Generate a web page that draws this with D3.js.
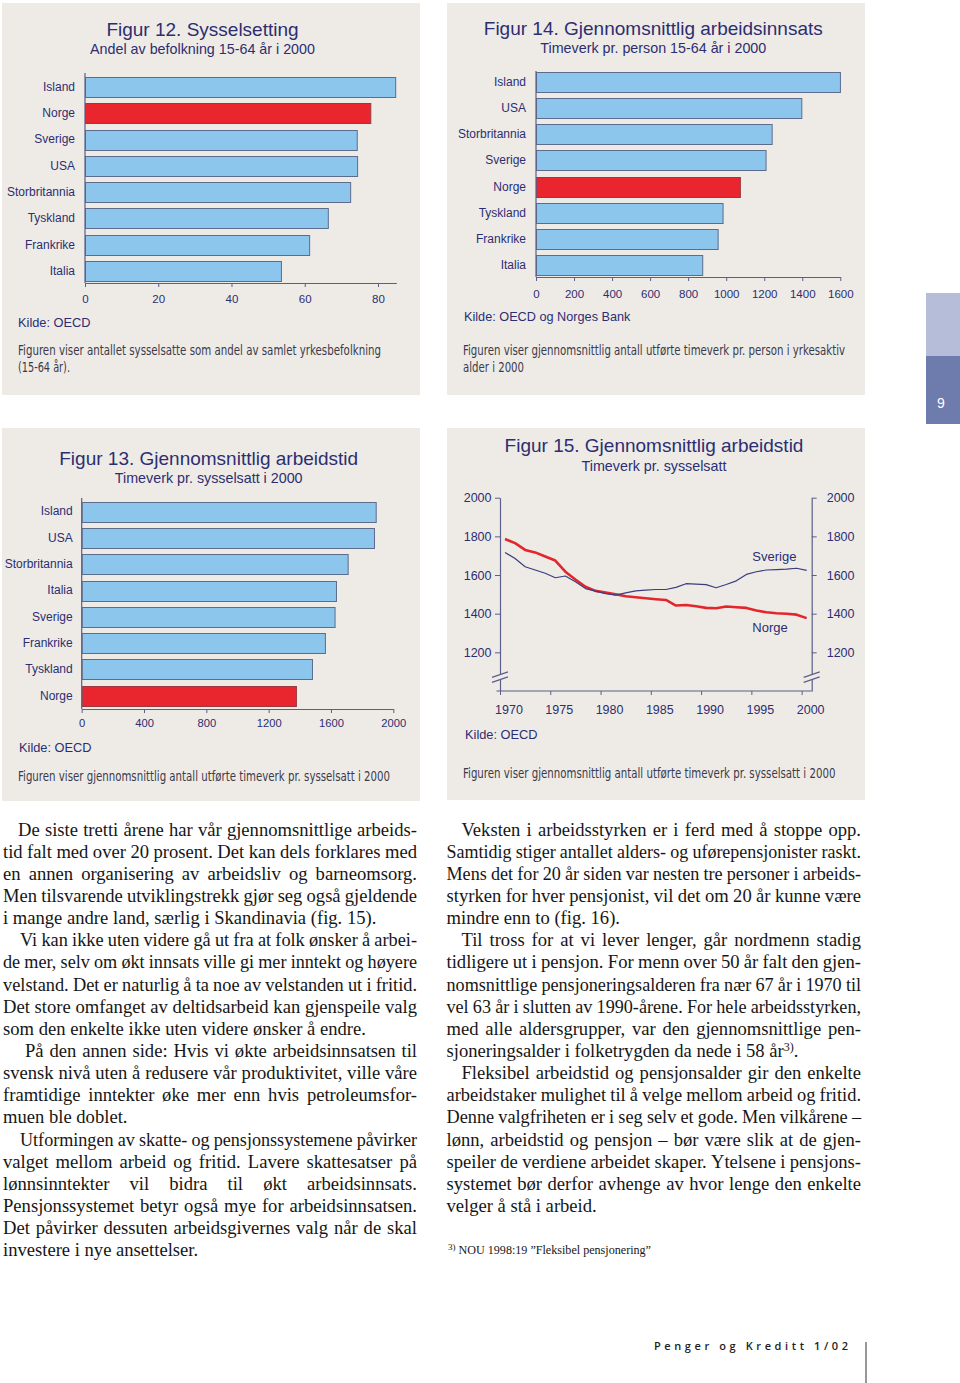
<!DOCTYPE html>
<html><head><meta charset="utf-8">
<script src="https://cdn.jsdelivr.net/npm/d3@7"></script>
<style>
html,body{margin:0;padding:0;background:#fff;}
svg{display:block;}
</style></head><body>
<svg id="page" width="960" height="1383"></svg>
<script>
// ---------------- DATA ----------------
const fig12Categories = ["Island","Norge","Sverige","USA","Storbritannia","Tyskland","Frankrike","Italia"];
const fig12Values = [84.7, 77.9, 74.2, 74.3, 72.4, 66.3, 61.2, 53.5];
const fig12Ticks = [0, 20, 40, 60, 80];

const fig14Categories = ["Island","USA","Storbritannia","Sverige","Norge","Tyskland","Frankrike","Italia"];
const fig14Values = [1598, 1395, 1239, 1207, 1072, 981, 955, 874];
const fig14Ticks = [0, 200, 400, 600, 800, 1000, 1200, 1400, 1600];

const fig13Categories = ["Island","USA","Storbritannia","Italia","Sverige","Frankrike","Tyskland","Norge"];
const fig13Values = [1887, 1876, 1707, 1632, 1623, 1561, 1478, 1375];
const fig13Ticks = [0, 400, 800, 1200, 1600, 2000];

const fig15Years = [1970,1971,1972,1973,1974,1975,1976,1977,1978,1979,1980,1981,1982,1983,1984,1985,1986,1987,1988,1989,1990,1991,1992,1993,1994,1995,1996,1997,1998,1999,2000];
const fig15Norge = [1786,1765,1730,1717,1696,1675,1617,1577,1539,1518,1510,1501,1490,1485,1480,1475,1471,1442,1445,1438,1430,1428,1437,1433,1430,1416,1407,1402,1400,1395,1377];
const fig15Sverige = [1717,1685,1643,1626,1609,1586,1595,1565,1530,1517,1504,1496,1508,1518,1522,1525,1525,1536,1555,1553,1550,1534,1551,1570,1603,1617,1626,1628,1630,1635,1624];
const fig15YTicks = [1200, 1400, 1600, 1800, 2000];
const fig15XTicks = [1970, 1975, 1980, 1985, 1990, 1995, 2000];

const textLeft = [
 {t:"De siste tretti årene har vår gjennomsnittlige arbeids-", i:15},
 {t:"tid falt med over 20 prosent. Det kan dels forklares med"},
 {t:"en annen organisering av arbeidsliv og barneomsorg."},
 {t:"Men tilsvarende utviklingstrekk gjør seg også gjeldende"},
 {t:"i mange andre land, særlig i Skandinavia (fig. 15).", last:true},
 {t:"Vi kan ikke uten videre gå ut fra at folk ønsker å arbei-", i:17},
 {t:"de mer, selv om økt innsats ville gi mer inntekt og høyere"},
 {t:"velstand. Det er naturlig å ta noe av velstanden ut i fritid."},
 {t:"Det store omfanget av deltidsarbeid kan gjenspeile valg"},
 {t:"som den enkelte ikke uten videre ønsker å endre.", last:true},
 {t:"På den annen side: Hvis vi økte arbeidsinnsatsen til", i:22},
 {t:"svensk nivå uten å redusere vår produktivitet, ville våre"},
 {t:"framtidige inntekter øke mer enn hvis petroleumsfor-"},
 {t:"muen ble doblet.", last:true},
 {t:"Utformingen av skatte- og pensjonssystemene påvirker", i:17},
 {t:"valget mellom arbeid og fritid. Lavere skattesatser på"},
 {t:"lønnsinntekter vil bidra til økt arbeidsinnsats."},
 {t:"Pensjonssystemet betyr også mye for arbeidsinnsatsen."},
 {t:"Det påvirker dessuten arbeidsgivernes valg når de skal"},
 {t:"investere i nye ansettelser.", last:true}
];
const textRight = [
 {t:"Veksten i arbeidsstyrken er i ferd med å stoppe opp.", i:15},
 {t:"Samtidig stiger antallet alders- og uførepensjonister raskt."},
 {t:"Mens det for 20 år siden var nesten tre personer i arbeids-"},
 {t:"styrken for hver pensjonist, vil det om 20 år kunne være"},
 {t:"mindre enn to (fig. 16).", last:true},
 {t:"Til tross for at vi lever lenger, går nordmenn stadig", i:15},
 {t:"tidligere ut i pensjon. For menn over 50 år falt den gjen-"},
 {t:"nomsnittlige pensjoneringsalderen fra nær 67 år i 1970 til"},
 {t:"vel 63 år i slutten av 1990-årene. For hele arbeidsstyrken,"},
 {t:"med alle aldersgrupper, var den gjennomsnittlige pen-"},
 {t:"sjoneringsalder i folketrygden da nede i 58 år", sup:"3)", after:".", last:true},
 {t:"Fleksibel arbeidstid og pensjonsalder gir den enkelte", i:15},
 {t:"arbeidstaker mulighet til å velge mellom arbeid og fritid."},
 {t:"Denne valgfriheten er i seg selv et gode. Men vilkårene –"},
 {t:"lønn, arbeidstid og pensjon – bør være slik at de gjen-"},
 {t:"speiler de verdiene arbeidet skaper. Ytelsene i pensjons-"},
 {t:"systemet bør derfor avhenge av hvor lenge den enkelte"},
 {t:"velger å stå i arbeid.", last:true}
];

// ---------------- STYLE ----------------
const PANEL = "#eeebe7";
const BLUE = "#8dc6ed", BLUE_S = "#5d6b8c";
const RED = "#e9262d", RED_S = "#9a3a40";
const NAVY = "#2c2e70";
const AXIS = "#5a5e88";
const SANS = "'Liberation Sans', Arial, Helvetica, sans-serif";
const NARROW = "'Liberation Sans Narrow', 'Arial Narrow', 'DejaVu Sans Condensed', 'Liberation Sans', sans-serif";
const SERIF = "'Liberation Serif', 'Times New Roman', serif";
const fmt = d3.format("d");

const svg = d3.select("#page");
svg.append("rect").attr("width",960).attr("height",1383).attr("fill","#fff");

// panels
[[2,3,418,392],[447,3,418,392],[2,428,418,373],[447,428,418,372]].forEach(p=>{
  svg.append("rect").attr("x",p[0]).attr("y",p[1]).attr("width",p[2]).attr("height",p[3]).attr("fill",PANEL);
});

function txt(x,y,s,opt={}){
  const t = svg.append("text").attr("x",x).attr("y",y).text(s)
    .attr("font-family",opt.font||SANS).attr("font-size",opt.size||12)
    .attr("fill",opt.fill||NAVY).attr("text-anchor",opt.anchor||"start");
  if(opt.len){ t.attr("textLength",opt.len).attr("lengthAdjust","spacingAndGlyphs"); }
  return t;
}

function titleBlock(cx, y1, y2, title, sub){
  txt(cx, y1, title, {size:19, anchor:"middle"});
  txt(cx, y2, sub, {size:14.3, anchor:"middle"});
}

function barChart(o){
  const x = d3.scaleLinear().domain(o.xDomain).range(o.xRange);
  const y = d3.scaleBand().domain(o.cats).range(o.yRange).paddingInner(0.24).paddingOuter(0.12);
  const g = svg.append("g");
  g.selectAll("rect.bar").data(o.cats).join("rect").attr("class","bar")
    .attr("x", x(0)+0.5).attr("y", d=>Math.round(y(d))+0.5)
    .attr("width",(d,i)=>x(o.vals[i])-x(0))
    .attr("height", Math.round(y.bandwidth()))
    .attr("fill", d=> d===o.highlight?RED:BLUE)
    .attr("stroke", d=> d===o.highlight?RED_S:BLUE_S).attr("stroke-width",1);
  const la = g.append("g").attr("transform",`translate(${x(0)},0)`)
    .call(d3.axisLeft(y).tickSize(0).tickPadding(o.labelPad));
  la.select(".domain").remove();
  la.selectAll("text").attr("fill",NAVY).attr("font-family",SANS).attr("font-size",12);
  g.append("line").attr("x1",x(0)).attr("x2",x(0)).attr("y1",o.lineTop).attr("y2",o.axisY)
    .attr("stroke",AXIS).attr("stroke-width",1.2);
  const ba = g.append("g").attr("transform",`translate(0,${o.axisY})`)
    .call(d3.axisBottom(x).tickValues(o.ticks).tickFormat(fmt).tickSize(4).tickSizeOuter(0).tickPadding(o.tickPad));
  ba.attr("color",AXIS);
  ba.select(".domain").attr("stroke-width",1.2);
  ba.selectAll("text").attr("fill",NAVY).attr("font-family",SANS).attr("font-size",o.tickSize);
}

// ---------- Figur 12 ----------
titleBlock(202.5, 36, 54, "Figur 12. Sysselsetting", "Andel av befolkning 15-64 år i 2000");
barChart({cats:fig12Categories, vals:fig12Values, ticks:fig12Ticks, highlight:"Norge",
  xDomain:[0,85], xRange:[85,396.3], yRange:[73.8,284.2], lineTop:73, axisY:283,
  labelPad:10, tickPad:8, tickSize:11.5});
txt(18, 327, "Kilde: OECD", {size:12.8});
txt(18, 355, "Figuren viser antallet sysselsatte som andel av samlet yrkesbefolkning", {font:NARROW, size:14, len:363, fill:"#3a3a4a"});
txt(18, 372, "(15-64 år).", {font:NARROW, size:14, len:52, fill:"#3a3a4a"});

// ---------- Figur 14 ----------
titleBlock(653.3, 35, 53.3, "Figur 14. Gjennomsnittlig arbeidsinnsats", "Timeverk pr. person 15-64 år i 2000");
barChart({cats:fig14Categories, vals:fig14Values, ticks:fig14Ticks, highlight:"Norge",
  xDomain:[0,1600], xRange:[536,840.3], yRange:[68.6,278.5], lineTop:71, axisY:277,
  labelPad:10, tickPad:9, tickSize:11.5});
txt(464, 321, "Kilde: OECD og Norges Bank", {size:12.7});
txt(463, 355, "Figuren viser gjennomsnittlig antall utførte timeverk pr. person i yrkesaktiv", {font:NARROW, size:14, len:382, fill:"#3a3a4a"});
txt(463, 371.5, "alder i 2000", {font:NARROW, size:14, len:61, fill:"#3a3a4a"});

// ---------- Figur 13 ----------
titleBlock(208.7, 465, 483.3, "Figur 13. Gjennomsnittlig arbeidstid", "Timeverk pr. sysselsatt i 2000");
barChart({cats:fig13Categories, vals:fig13Values, ticks:fig13Ticks, highlight:"Norge",
  xDomain:[0,2000], xRange:[81.7,393.3], yRange:[498.5,708.8], lineTop:498, axisY:709,
  labelPad:9, tickPad:6.5, tickSize:11.2});
txt(19, 752, "Kilde: OECD", {size:12.8});
txt(18, 781, "Figuren viser gjennomsnittlig antall utførte timeverk pr. sysselsatt i 2000", {font:NARROW, size:14, len:372, fill:"#3a3a4a"});

// ---------- Figur 15 ----------
titleBlock(654, 451.7, 470.7, "Figur 15. Gjennomsnittlig arbeidstid", "Timeverk pr. sysselsatt");
(function(){
  const x = d3.scaleLinear().domain([1970, 2001]).range([500, 811.7]);
  const y = d3.scaleLinear().domain([1000, 2000]).range([691, 497.7]);
  const g = svg.append("g");
  const left = g.append("g").attr("transform",`translate(${x(1970)},0)`)
    .call(d3.axisLeft(y).tickValues(fig15YTicks).tickFormat(fmt).tickSize(5).tickSizeOuter(0).tickPadding(3.5));
  const right = g.append("g").attr("transform",`translate(${x(2001)},0)`)
    .call(d3.axisRight(y).tickValues(fig15YTicks).tickFormat(fmt).tickSize(5).tickSizeOuter(0).tickPadding(10));
  const bottom = g.append("g").attr("transform",`translate(0,${y(1000)})`)
    .call(d3.axisBottom(x).tickValues(fig15XTicks).tickFormat(fmt).tickSize(4).tickSizeOuter(0).tickPadding(10.5));
  [left,right,bottom].forEach(a=>{
    a.attr("color",AXIS);
    a.select(".domain").attr("stroke-width",1.2);
    a.selectAll("text").attr("fill",NAVY).attr("font-family",SANS).attr("font-size",12.5);
  });
  bottom.selectAll("text").attr("x",8.5);
  bottom.select(".domain").attr("d", `M${x(1969.65)},0H${x(2001)}`);

  // axis breaks
  const yc = y(1078);
  [x(1970), x(2001)].forEach(ax=>{
    g.append("path").attr("d",`M${ax-8},${yc+1.5}L${ax+8},${yc-4}L${ax+8},${yc+1}L${ax-8},${yc+6.5}Z`).attr("fill",PANEL);
    g.append("line").attr("x1",ax-8).attr("y1",yc+1.5).attr("x2",ax+8).attr("y2",yc-4).attr("stroke",AXIS).attr("stroke-width",1.2);
    g.append("line").attr("x1",ax-8).attr("y1",yc+6.5).attr("x2",ax+8).attr("y2",yc+1).attr("stroke",AXIS).attr("stroke-width",1.2);
  });

  const line = d3.line().x(d=>x(d[0]+0.5)).y(d=>y(d[1]));
  g.append("path").datum(fig15Years.map((yr,i)=>[yr,fig15Norge[i]]))
    .attr("d",line).attr("fill","none").attr("stroke","#e3262b").attr("stroke-width",2.6).attr("stroke-linejoin","round");
  g.append("path").datum(fig15Years.map((yr,i)=>[yr,fig15Sverige[i]]))
    .attr("d",line).attr("fill","none").attr("stroke","#3a3d7e").attr("stroke-width",1.2).attr("stroke-linejoin","round");
  txt(752.3, 561, "Sverige", {size:13});
  txt(752.3, 631.5, "Norge", {size:13});
})();
txt(465, 739, "Kilde: OECD", {size:12.8});
txt(463, 778, "Figuren viser gjennomsnittlig antall utførte timeverk pr. sysselsatt i 2000", {font:NARROW, size:14, len:372.4, fill:"#3a3a4a"});

// ---------- Body text ----------
function column(lines, x0, x1, y0, step){
  const g = svg.append("g").attr("font-family",SERIF).attr("font-size",18.6).attr("fill","#161616");
  const MIN_GAP = 4.2;
  lines.forEach((ln,k)=>{
    const y = y0 + k*step;
    const xs = x0 + (ln.i||0);
    if(ln.last){
      const t = g.append("text").attr("x",xs).attr("y",y);
      t.append("tspan").text(ln.t);
      if(ln.sup){
        t.append("tspan").attr("font-size",12).attr("dy",-6.5).text(ln.sup);
        t.append("tspan").attr("dy",6.5).text(ln.after);
      }
      return;
    }
    const words = ln.t.split(" ");
    let widths = words.map(w=>{
      const tt = g.append("text").text(w);
      const wd = tt.node().getComputedTextLength(); tt.remove(); return wd;
    });
    const avail = x1 - xs;
    let gap = (avail - d3.sum(widths)) / (words.length-1);
    let squeeze = false;
    if(gap < MIN_GAP){
      const s = (avail - MIN_GAP*(words.length-1)) / d3.sum(widths);
      widths = widths.map(w=>w*s);
      gap = MIN_GAP; squeeze = true;
    }
    let cx = xs;
    words.forEach((w,i)=>{
      const t = g.append("text").attr("x",cx).attr("y",y).text(w);
      if(squeeze) t.attr("textLength",widths[i]).attr("lengthAdjust","spacingAndGlyphs");
      cx += widths[i] + gap;
    });
  });
}
column(textLeft, 3, 417, 835.5, 22.15);
column(textRight, 446.5, 861, 835.5, 22.15);

// footnote
(function(){
  const t = svg.append("text").attr("x",448).attr("y",1254).attr("font-family",SERIF).attr("font-size",12.1).attr("fill","#161616");
  t.append("tspan").attr("font-size",9).attr("dy",-4).text("3)");
  t.append("tspan").attr("dy",4).text(" NOU 1998:19 ”Fleksibel pensjonering”");
})();

// footer
txt(654, 1350, "Penger og Kreditt 1/02", {font:"'Open Sans', 'Liberation Sans', sans-serif", size:11, fill:"#1e1e1e"})
  .attr("font-weight",600).attr("textLength",194).attr("lengthAdjust","spacing");
svg.append("line").attr("x1",866).attr("x2",866).attr("y1",1342).attr("y2",1383).attr("stroke","#333").attr("stroke-width",1);

// side tab
svg.append("rect").attr("x",926).attr("y",293).attr("width",34).attr("height",63).attr("fill","#b6bdd9");
svg.append("rect").attr("x",926).attr("y",356).attr("width",34).attr("height",68).attr("fill","#6e7cad");
txt(941, 407.5, "9", {size:14, fill:"#fff", anchor:"middle"});
</script>
</body></html>
